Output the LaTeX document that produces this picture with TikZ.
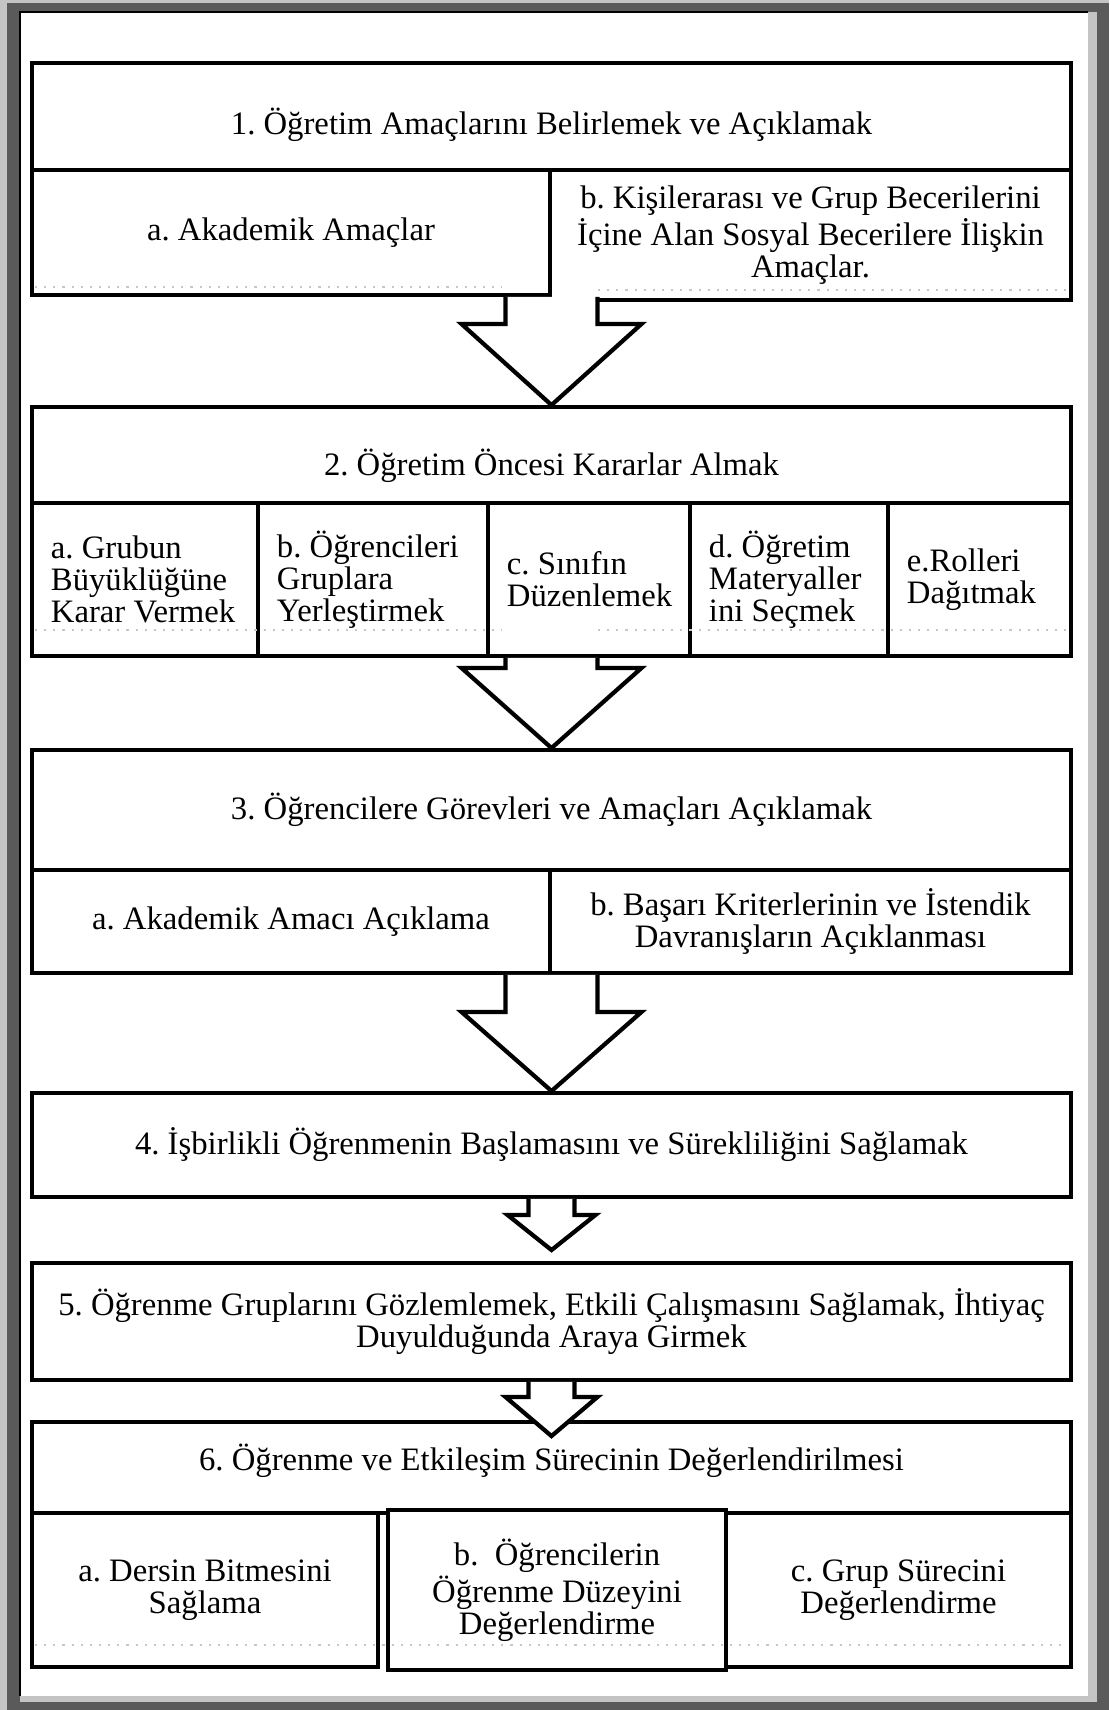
\documentclass[tikz,border=0pt]{standalone}
\usepackage{fontspec}
\setmainfont{Liberation Serif}
\usepackage{tikz}
\usetikzlibrary{calc,positioning}
\frenchspacing

\definecolor{cerceve}{HTML}{5A5A5A}
\definecolor{acikgri}{HTML}{C4C4C4}
\newcommand{\yazi}{\fontsize{9.3}{9.1}\selectfont}
% move a one-line title up or down, keeping its box
\newcommand{\kaydir}[2]{\raisebox{#1}[\height][\depth]{#2}}

% block arrow: start point, tip, half shaft, half head, shaft length
\newcommand{\blokok}[5]{%
	\draw [blokok] ($(#1)+(-#3,0)$) -- ($(#1)+(-#3,#5)$) -- ($(#1)+(-#4,#5)$) -- (#2) -- ($(#1)+(#4,#5)$) -- ($(#1)+(#3,#5)$) -- ($(#1)+(#3,0)$);}

\begin{document}
\begin{tikzpicture}[x=0.01cm, y=-0.01cm,
		ana/.style={draw, line width=1.1pt, fill=white, minimum width=10.39cm, align=center, font=\yazi, inner sep=0pt},
		alt/.style={draw, line width=1.1pt, fill=white, align=center, font=\yazi, inner sep=0pt},
		altsol/.style={draw, line width=1.1pt, fill=white, align=flush left, font=\yazi, inner xsep=0.19cm, inner ysep=0pt, minimum height=1.53cm},
		blokok/.style={draw, line width=1.2pt, fill=white, line join=miter},
		iz/.style={gray!45, dotted, line width=0.6pt}]
		\useasboundingbox (0,0) rectangle (1109,1710);
		% frame
		\fill [acikgri] (0,0) rectangle (1109,1710);
		\fill [cerceve] (7,3) rectangle (1109,1710);
		\fill [acikgri] (20,12) rectangle (1097,1702);
		\fill [white] (21,13) rectangle (1088,1696);
		\draw [line width=0.8pt] (20,1696) -- (20,12) -- (1088,12);
		% 1
		\node [ana, minimum height=1.07cm] (hedef) at (551.5,116.5) {\kaydir{-0.08cm}{1. Öğretim Amaçlarını Belirlemek ve Açıklamak}};
		\node [alt, minimum width=5.18cm, minimum height=1.25cm] (hedefA) at (291,232.5) {a. Akademik Amaçlar};
		\node [alt, minimum width=5.21cm, minimum height=1.30cm] (hedefB) at (810.5,235) {b. Kişilerarası ve Grup Becerilerini\\İçine Alan Sosyal Becerilere İlişkin\\Amaçlar.};
		\draw [iz] (35,287) -- (502,287) (598,290) -- (1068,290);
		% 2
		\node [ana, minimum height=0.96cm] (karar) at (551.5,455) {\kaydir{-0.11cm}{2. Öğretim Öncesi Kararlar Almak}};
		\node [altsol, text width=1.88cm] (kararA) at (145,579.5) {a. Grubun\\Büyüklüğüne\\Karar Vermek};
		\node [altsol, text width=1.92cm] (kararB) at (373,579.5) {b. Öğrencileri\\Gruplara\\Yerleştirmek};
		\node [altsol, text width=1.64cm] (kararC) at (589,579.5) {c. Sınıfın\\Düzenlemek};
		\node [altsol, text width=1.60cm] (kararD) at (789,579.5) {d. Öğretim\\Materyaller\\ini Seçmek};
		\node [altsol, text width=1.45cm] (kararE) at (979.5,579.5) {e.Rolleri\\Dağıtmak};
		\draw [iz] (35,630) -- (502,630) (598,630) -- (1068,630);
		% 3
		\node [ana, minimum height=1.20cm] (gorev) at (551.5,810) {3. Öğrencilere Görevleri ve Amaçları Açıklamak};
		\node [alt, minimum width=5.18cm, minimum height=1.03cm] (gorevA) at (291,921.5) {a. Akademik Amacı Açıklama};
		\node [alt, minimum width=5.21cm, minimum height=1.03cm] (gorevB) at (810.5,921.5) {b. Başarı Kriterlerinin ve İstendik\\Davranışların Açıklanması};
		% 4
		\node [ana, minimum height=1.04cm] (baslat) at (551.5,1145) {4. İşbirlikli Öğrenmenin Başlamasını ve Sürekliliğini Sağlamak};
		% 5
		\node [ana, minimum height=1.17cm] (gozlem) at (551.5,1321.5) {5. Öğrenme Gruplarını Gözlemlemek, Etkili Çalışmasını Sağlamak, İhtiyaç\\Duyulduğunda Araya Girmek};
		% 6
		\node [ana, minimum height=0.91cm] (deger) at (551.5,1467.5) {\kaydir{0.07cm}{6. Öğrenme ve Etkileşim Sürecinin Değerlendirilmesi}};
		\node [alt, minimum width=3.46cm, minimum height=1.54cm] (degerA) at (205,1590) {a. Dersin Bitmesini\\Sağlama};
		\node [alt, minimum width=3.45cm, minimum height=1.54cm] (degerC) at (898.5,1590) {c. Grup Sürecini\\Değerlendirme};
		\node [alt, minimum width=3.38cm, minimum height=1.60cm] (degerB) at (557,1590) {b.\ \ Öğrencilerin\\Öğrenme Düzeyini\\Değerlendirme};
		\draw [iz] (35,1645) -- (1068,1645);
		% arrows
		\coordinate (o1) at (karar.north |- hedefA.south);
		\coordinate (o2) at (gorev.north |- kararC.south);
		\coordinate (o3) at (baslat.north |- gorevA.south);
		\coordinate (o4) at (gozlem.north |- baslat.south);
		\coordinate (o5) at (deger.north |- gozlem.south);
		\coordinate (u4) at ($(gozlem.north)+(0,-11)$);
		\coordinate (u5) at ($(deger.north)+(0,16)$);
		\blokok{o1}{karar.north}{46}{90}{27}
		\blokok{o2}{gorev.north}{46}{90}{10}
		\blokok{o3}{baslat.north}{46}{90}{37}
		\blokok{o4}{u4}{23}{44}{16}
		\blokok{o5}{u5}{23}{46}{15}
\end{tikzpicture}
\end{document}
